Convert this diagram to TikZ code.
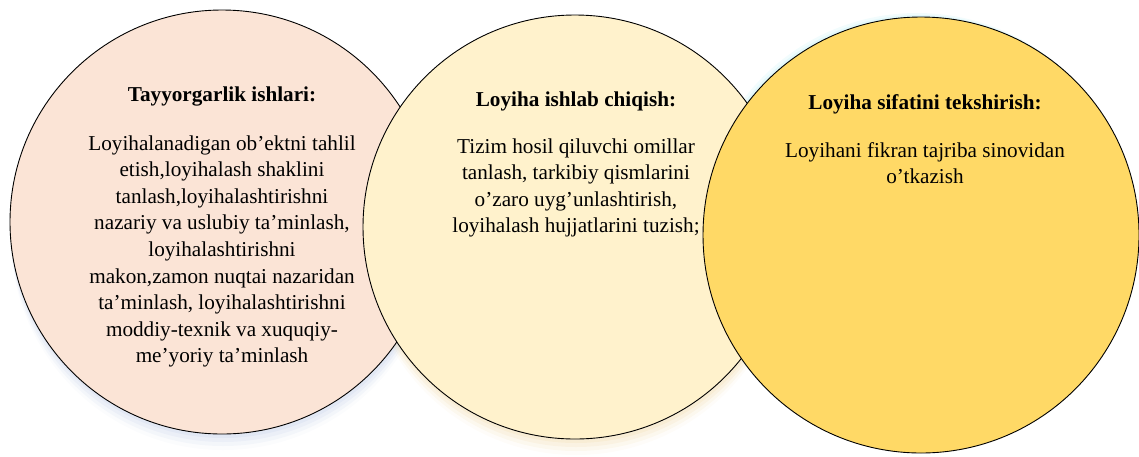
\documentclass[tikz,border=0pt]{standalone}
\usepackage{fontspec}
\setmainfont{Liberation Serif}
\definecolor{pinkfill}{HTML}{FBE4D6}
\definecolor{creamfill}{HTML}{FFF2CC}
\definecolor{goldfill}{HTML}{FFD966}
\definecolor{shadeblue}{HTML}{C9D3EA}
\definecolor{shadewarm}{HTML}{F2DDB0}
\definecolor{shadecyan}{HTML}{BFEFF5}
\tikzset{
  bubble/.style={circle, draw=black, line width=0.9pt, inner sep=0pt},
  ttl/.style={font=\fontsize{21.2}{26.6}\selectfont\bfseries, inner sep=0pt, anchor=base},
  body/.style={font=\fontsize{21.2}{26.6}\selectfont, align=center, inner sep=0pt, anchor=base},
}
\begin{document}
\begin{tikzpicture}[x=1pt,y=-1pt]
\useasboundingbox (0,0) rectangle (1139,456);
% soft shadows
\foreach \o/\a in {4/0.25,8/0.2,12/0.15,16/0.08}{
  \fill[shadeblue, opacity=\a] (223,{222+\o}) circle[radius=212pt];
  \fill[shadewarm, opacity=\a] (576,{227+\o}) circle[radius=212pt];
}
\foreach \o/\a in {2/0.3,4/0.2}{
  \fill[shadecyan, opacity=\a] ({921-\o},{235-\o}) circle[radius=218pt];
}
\node[bubble, fill=pinkfill, minimum size=424pt] (c1) at (222,222) {};
\node[bubble, fill=creamfill, minimum size=424pt] (c2) at (575,227) {};
\node[bubble, fill=goldfill, minimum size=436pt] (c3) at (921,235) {};

\node[ttl] (t1) at (222,101) {Tayyorgarlik ishlari:};
\node[body] (b1) at (222,362.8) {Loyihalanadigan ob’ektni tahlil\\etish,loyihalash shaklini\\tanlash,loyihalashtirishni\\nazariy va uslubiy ta’minlash,\\loyihalashtirishni\\makon,zamon nuqtai nazaridan\\ta’minlash, loyihalashtirishni\\moddiy-texnik va xuquqiy-\\me’yoriy ta’minlash};

\node[ttl] (t2) at (576,106) {Loyiha ishlab chiqish:};
\node[body] (b2) at (576,232.8) {Tizim hosil qiluvchi omillar\\tanlash, tarkibiy qismlarini\\o’zaro uyg’unlashtirish,\\loyihalash hujjatlarini tuzish;};

\node[ttl] (t3) at (925,109) {Loyiha sifatini tekshirish:};
\node[body] (b3) at (925,183.6) {Loyihani fikran tajriba sinovidan\\o’tkazish};
\end{tikzpicture}
\end{document}
